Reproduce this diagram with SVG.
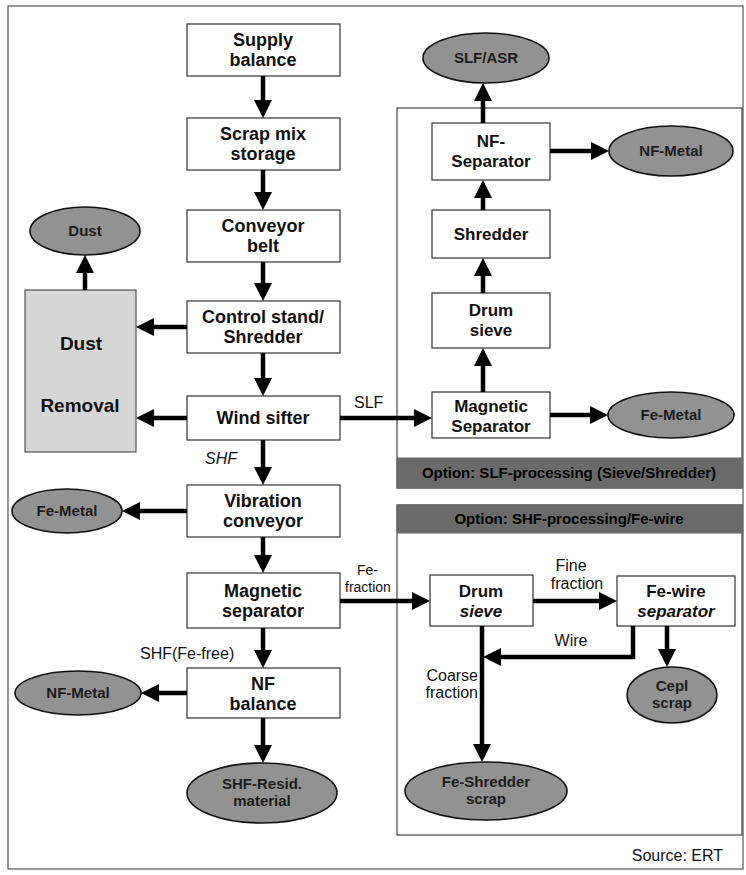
<svg xmlns="http://www.w3.org/2000/svg" width="746" height="875" viewBox="0 0 746 875">
<defs>
<marker id="ah" markerUnits="userSpaceOnUse" viewBox="0 0 18 18" markerWidth="18" markerHeight="18" refX="8" refY="9" orient="auto">
<path d="M0,0 L18,9 L0,18 z" fill="#000"/>
</marker>
</defs>
<style>
.box{fill:#fff;stroke:#333;stroke-width:1.2}
.dbox{fill:#d6d6d6;stroke:#555;stroke-width:1.2}
.ell{fill:#929292;stroke:#111;stroke-width:1.6}
.frame{fill:none;stroke:#444;stroke-width:1.2}
.banner{fill:#6a6a6a;stroke:#666;stroke-width:1}
.t{font-family:"Liberation Sans",Arial,sans-serif;font-weight:bold;font-size:18px;fill:#111;text-anchor:middle}
.tr{font-family:"Liberation Sans",Arial,sans-serif;font-weight:bold;font-size:17px;fill:#111;text-anchor:middle}
.et{font-family:"Liberation Sans",Arial,sans-serif;font-weight:bold;font-size:15px;fill:#1c1c1c;text-anchor:middle}
.bt{font-family:"Liberation Sans",Arial,sans-serif;font-weight:bold;font-size:15px;fill:#000;text-anchor:middle}
.lab{font-family:"Liberation Sans",Arial,sans-serif;font-size:16px;fill:#111}
.sm{font-size:14px}
.it{font-style:italic}
.c{fill:none;stroke:#000;stroke-width:4.5}
</style>
<rect x="8" y="6" width="735" height="863" fill="#fff" stroke="#555" stroke-width="1.2"/>

<g id="frames">
<rect class="frame" x="397" y="108" width="345" height="380"/>
<rect class="banner" x="397" y="458" width="345" height="30"/>
<text class="bt" x="569" y="478">Option: SLF-processing (Sieve/Shredder)</text>
<rect class="frame" x="397" y="505" width="345" height="330"/>
<rect class="banner" x="397" y="505" width="345" height="28"/>
<text class="bt" x="569" y="524">Option: SHF-processing/Fe-wire</text>
</g>

<g id="supply"><rect class="box" x="187" y="24" width="153" height="52"/><text class="t" x="263" y="46">Supply</text><text class="t" x="263" y="66">balance</text></g>
<g id="scrap"><rect class="box" x="187" y="118" width="153" height="52"/><text class="t" x="263" y="140">Scrap mix</text><text class="t" x="263" y="160">storage</text></g>
<g id="conveyor"><rect class="box" x="187" y="210" width="153" height="52"/><text class="t" x="263" y="232">Conveyor</text><text class="t" x="263" y="252">belt</text></g>
<g id="control"><rect class="box" x="187" y="301" width="153" height="52"/><text class="t" x="263" y="323">Control stand/</text><text class="t" x="263" y="343">Shredder</text></g>
<g id="wind"><rect class="box" x="187" y="396" width="153" height="44"/><text class="t" x="263" y="424">Wind sifter</text></g>
<g id="vibration"><rect class="box" x="187" y="485" width="153" height="52"/><text class="t" x="263" y="507">Vibration</text><text class="t" x="263" y="527">conveyor</text></g>
<g id="magsep"><rect class="box" x="187" y="573" width="153" height="55"/><text class="t" x="263" y="597">Magnetic</text><text class="t" x="263" y="617">separator</text></g>
<g id="nfbal"><rect class="box" x="187" y="668" width="153" height="50"/><text class="t" x="263" y="690">NF</text><text class="t" x="263" y="710">balance</text></g>

<g id="dustremoval"><rect class="dbox" x="25" y="290" width="111" height="162"/><text class="t" x="81" y="350" style="font-size:19px">Dust</text><text class="t" x="80" y="412" style="font-size:19px">Removal</text></g>
<g id="dust"><ellipse class="ell" cx="85" cy="231" rx="55" ry="24"/><text class="et" x="85" y="236">Dust</text></g>
<g id="femetal1"><ellipse class="ell" cx="67" cy="511" rx="55" ry="22"/><text class="et" x="67" y="516">Fe-Metal</text></g>
<g id="nfmetal1"><ellipse class="ell" cx="78" cy="693" rx="63" ry="22"/><text class="et" x="78" y="698">NF-Metal</text></g>
<g id="shfresid"><ellipse class="ell" cx="262" cy="793" rx="75" ry="30"/><text class="et" x="262" y="789">SHF-Resid.</text><text class="et" x="262" y="806">material</text></g>

<g id="slfasr"><ellipse class="ell" cx="486" cy="58" rx="63" ry="25"/><text class="et" x="486" y="63">SLF/ASR</text></g>
<g id="nfsep"><rect class="box" x="432" y="123" width="118" height="57"/><text class="tr" x="491" y="147">NF-</text><text class="tr" x="491" y="167">Separator</text></g>
<g id="nfmetal2"><ellipse class="ell" cx="671" cy="151" rx="62" ry="25"/><text class="et" x="671" y="156">NF-Metal</text></g>
<g id="shredder"><rect class="box" x="432" y="210" width="118" height="48"/><text class="tr" x="491" y="240">Shredder</text></g>
<g id="drum1"><rect class="box" x="432" y="293" width="118" height="55"/><text class="tr" x="491" y="316">Drum</text><text class="tr" x="491" y="336">sieve</text></g>
<g id="magsep2"><rect class="box" x="432" y="392" width="118" height="46"/><text class="tr" x="491" y="412">Magnetic</text><text class="tr" x="491" y="432">Separator</text></g>
<g id="femetal2"><ellipse class="ell" cx="671" cy="415" rx="63" ry="23"/><text class="et" x="671" y="420">Fe-Metal</text></g>

<g id="drum2"><rect class="box" x="430" y="575" width="103" height="51"/><text class="tr" x="481" y="597">Drum</text><text class="tr it" x="481" y="617">sieve</text></g>
<g id="fewire"><rect class="box" x="617" y="576" width="118" height="50"/><text class="tr" x="676" y="597">Fe-wire</text><text class="tr it" x="676" y="617">separator</text></g>
<g id="ceplscrap"><ellipse class="ell" cx="672" cy="695" rx="45" ry="28"/><text class="et" x="672" y="691">Cepl</text><text class="et" x="672" y="708">scrap</text></g>
<g id="feshredder"><ellipse class="ell" cx="486" cy="791" rx="81" ry="29"/><text class="et" x="486" y="787">Fe-Shredder</text><text class="et" x="486" y="804">scrap</text></g>

<g id="connectors">
<line class="c" x1="263" y1="76" x2="263" y2="108" marker-end="url(#ah)"/>
<line class="c" x1="263" y1="170" x2="263" y2="200" marker-end="url(#ah)"/>
<line class="c" x1="263" y1="262" x2="263" y2="291" marker-end="url(#ah)"/>
<line class="c" x1="263" y1="353" x2="263" y2="386" marker-end="url(#ah)"/>
<line class="c" x1="263" y1="440" x2="263" y2="475" marker-end="url(#ah)"/>
<line class="c" x1="263" y1="537" x2="263" y2="563" marker-end="url(#ah)"/>
<line class="c" x1="263" y1="628" x2="263" y2="658" marker-end="url(#ah)"/>
<line class="c" x1="263" y1="718" x2="263" y2="753" marker-end="url(#ah)"/>
<line class="c" x1="187" y1="327" x2="146" y2="327" marker-end="url(#ah)"/>
<line class="c" x1="187" y1="418" x2="146" y2="418" marker-end="url(#ah)"/>
<line class="c" x1="85" y1="290" x2="85" y2="265" marker-end="url(#ah)"/>
<line class="c" x1="187" y1="511" x2="132" y2="511" marker-end="url(#ah)"/>
<line class="c" x1="187" y1="693" x2="151" y2="693" marker-end="url(#ah)"/>
<line class="c" x1="340" y1="418" x2="422" y2="418" marker-end="url(#ah)"/>
<line class="c" x1="483" y1="392" x2="483" y2="358" marker-end="url(#ah)"/>
<line class="c" x1="483" y1="293" x2="483" y2="268" marker-end="url(#ah)"/>
<line class="c" x1="483" y1="210" x2="483" y2="190" marker-end="url(#ah)"/>
<line class="c" x1="483" y1="123" x2="483" y2="93" marker-end="url(#ah)"/>
<line class="c" x1="550" y1="151" x2="599" y2="151" marker-end="url(#ah)"/>
<line class="c" x1="550" y1="415" x2="598" y2="415" marker-end="url(#ah)"/>
<line class="c" x1="340" y1="601" x2="420" y2="601" marker-end="url(#ah)"/>
<line class="c" x1="533" y1="601" x2="607" y2="601" marker-end="url(#ah)"/>
<path class="c" d="M633,626 V657 H493" marker-end="url(#ah)"/>
<line class="c" x1="482" y1="626" x2="482" y2="752" marker-end="url(#ah)"/>
<line class="c" x1="667" y1="626" x2="667" y2="657" marker-end="url(#ah)"/>
</g>

<g id="labels">
<text class="lab" x="354" y="408">SLF</text>
<text class="lab it" x="205" y="464">SHF</text>
<text class="lab sm" x="357" y="575">Fe-</text>
<text class="lab sm" x="345" y="592">fraction</text>
<text class="lab" x="140" y="659">SHF(Fe-free)</text>
<text class="lab" x="571" y="571" text-anchor="middle">Fine</text>
<text class="lab" x="577" y="589" text-anchor="middle">fraction</text>
<text class="lab" x="571" y="646" text-anchor="middle">Wire</text>
<text class="lab" x="478" y="681" text-anchor="end">Coarse</text>
<text class="lab" x="478" y="698" text-anchor="end">fraction</text>
<text class="lab" x="723" y="861" text-anchor="end">Source: ERT</text>
</g>
</svg>
